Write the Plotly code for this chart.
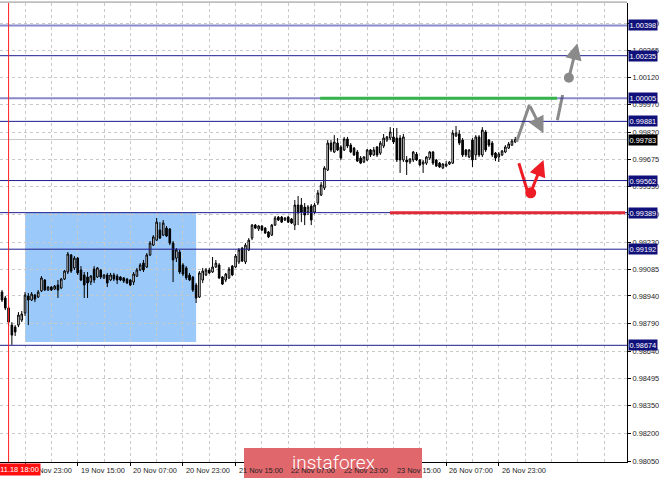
import plotly.graph_objects as go

# ---------------- data (H1 candles, bar index 0 = 16 Nov 16:00) ----------------
bar_idx = list(range(157))

open_ = [0.98961, 0.98929, 0.98875, 0.98783, 0.98772, 0.98783, 0.98810, 0.98848, 0.98940, 0.98918,
         0.98945, 0.98934, 0.98967, 0.99026, 0.98972, 0.98988, 0.98977, 0.98999, 0.98983, 0.99031,
         0.99069, 0.99161, 0.99091, 0.99144, 0.99080, 0.99053, 0.99042, 0.99015, 0.99085, 0.99042,
         0.99080, 0.99037, 0.99053, 0.99026, 0.99053, 0.99047, 0.99042, 0.99037, 0.99031, 0.99026,
         0.99015, 0.99047, 0.99080, 0.99117, 0.99096, 0.99161, 0.99214, 0.99241, 0.99295, 0.99268,
         0.99306, 0.99301, 0.99225, 0.99144, 0.99177, 0.99107, 0.99091, 0.99053, 0.99042, 0.98999,
         0.98934, 0.99026, 0.99053, 0.99080, 0.99069, 0.99096, 0.99107, 0.99042, 0.99026, 0.99037,
         0.99101, 0.99096, 0.99123, 0.99198, 0.99123, 0.99188, 0.99252, 0.99322, 0.99301, 0.99317,
         0.99306, 0.99285, 0.99268, 0.99322, 0.99365, 0.99365, 0.99349, 0.99365, 0.99355, 0.99322,
         0.99430, 0.99430, 0.99419, 0.99392, 0.99425, 0.99392, 0.99441, 0.99484, 0.99522, 0.99619,
         0.99764, 0.99716, 0.99764, 0.99743, 0.99727, 0.99786, 0.99753, 0.99737, 0.99716, 0.99683,
         0.99662, 0.99673, 0.99727, 0.99700, 0.99743, 0.99710, 0.99748, 0.99780, 0.99791, 0.99797,
         0.99791, 0.99791, 0.99673, 0.99673, 0.99662, 0.99673, 0.99705, 0.99673, 0.99651, 0.99656,
         0.99683, 0.99716, 0.99673, 0.99656, 0.99630, 0.99640, 0.99651, 0.99656, 0.99802, 0.99813,
         0.99780, 0.99727, 0.99689, 0.99780, 0.99700, 0.99797, 0.99700, 0.99824, 0.99780, 0.99764,
         0.99710, 0.99689, 0.99700, 0.99716, 0.99737, 0.99753, 0.99770]

high = [0.98972, 0.98940, 0.98886, 0.98799, 0.98783, 0.98853, 0.98859, 0.98961, 0.98956, 0.98961,
        0.98950, 0.98972, 0.99047, 0.99031, 0.98993, 0.98993, 0.98999, 0.99026, 0.99037, 0.99080,
        0.99177, 0.99166, 0.99155, 0.99150, 0.99101, 0.99069, 0.99069, 0.99053, 0.99101, 0.99096,
        0.99085, 0.99058, 0.99064, 0.99064, 0.99064, 0.99058, 0.99047, 0.99042, 0.99037, 0.99031,
        0.99069, 0.99091, 0.99117, 0.99134, 0.99171, 0.99236, 0.99268, 0.99360, 0.99338, 0.99349,
        0.99317, 0.99306, 0.99236, 0.99198, 0.99188, 0.99117, 0.99101, 0.99064, 0.99047, 0.99010,
        0.99074, 0.99091, 0.99091, 0.99091, 0.99150, 0.99134, 0.99117, 0.99047, 0.99064, 0.99096,
        0.99107, 0.99166, 0.99198, 0.99204, 0.99225, 0.99252, 0.99328, 0.99328, 0.99322, 0.99322,
        0.99311, 0.99290, 0.99328, 0.99371, 0.99371, 0.99371, 0.99365, 0.99371, 0.99360, 0.99457,
        0.99479, 0.99468, 0.99441, 0.99430, 0.99435, 0.99441, 0.99511, 0.99554, 0.99640, 0.99780,
        0.99780, 0.99807, 0.99791, 0.99753, 0.99797, 0.99797, 0.99764, 0.99743, 0.99727, 0.99694,
        0.99694, 0.99732, 0.99732, 0.99743, 0.99748, 0.99775, 0.99813, 0.99802, 0.99850, 0.99845,
        0.99845, 0.99807, 0.99813, 0.99694, 0.99683, 0.99721, 0.99716, 0.99678, 0.99673, 0.99694,
        0.99721, 0.99721, 0.99678, 0.99662, 0.99656, 0.99667, 0.99667, 0.99834, 0.99856, 0.99834,
        0.99791, 0.99732, 0.99732, 0.99791, 0.99807, 0.99807, 0.99850, 0.99834, 0.99786, 0.99775,
        0.99716, 0.99716, 0.99727, 0.99753, 0.99770, 0.99786, 0.99797]

low = [0.98907, 0.98864, 0.98778, 0.98676, 0.98724, 0.98772, 0.98799, 0.98832, 0.98783, 0.98913,
       0.98907, 0.98929, 0.98961, 0.98967, 0.98967, 0.98967, 0.98972, 0.98929, 0.98977, 0.99026,
       0.99058, 0.99064, 0.99080, 0.99053, 0.99020, 0.98929, 0.98929, 0.98999, 0.99010, 0.99037,
       0.99031, 0.99031, 0.98988, 0.99020, 0.99020, 0.99004, 0.99020, 0.99010, 0.99004, 0.98993,
       0.98999, 0.99042, 0.99074, 0.99069, 0.99091, 0.99155, 0.99209, 0.99236, 0.99247, 0.99263,
       0.99258, 0.99214, 0.99015, 0.99123, 0.99058, 0.99047, 0.99026, 0.99020, 0.98961, 0.98902,
       0.98929, 0.99010, 0.99047, 0.99058, 0.99064, 0.99091, 0.99031, 0.98999, 0.99015, 0.99031,
       0.99047, 0.99091, 0.99112, 0.99123, 0.99112, 0.99182, 0.99241, 0.99301, 0.99290, 0.99290,
       0.99274, 0.99252, 0.99263, 0.99317, 0.99344, 0.99333, 0.99344, 0.99333, 0.99328, 0.99295,
       0.99322, 0.99338, 0.99322, 0.99376, 0.99322, 0.99381, 0.99430, 0.99479, 0.99511, 0.99613,
       0.99716, 0.99710, 0.99721, 0.99673, 0.99721, 0.99737, 0.99710, 0.99694, 0.99662, 0.99651,
       0.99656, 0.99667, 0.99689, 0.99694, 0.99689, 0.99700, 0.99737, 0.99770, 0.99780, 0.99759,
       0.99662, 0.99603, 0.99662, 0.99592, 0.99651, 0.99662, 0.99667, 0.99640, 0.99603, 0.99646,
       0.99673, 0.99646, 0.99635, 0.99630, 0.99624, 0.99635, 0.99646, 0.99651, 0.99797, 0.99753,
       0.99689, 0.99689, 0.99683, 0.99635, 0.99673, 0.99689, 0.99689, 0.99716, 0.99743, 0.99689,
       0.99667, 0.99662, 0.99694, 0.99710, 0.99732, 0.99748, 0.99764]

close = [0.98918, 0.98875, 0.98799, 0.98729, 0.98746, 0.98837, 0.98843, 0.98945, 0.98918, 0.98950,
         0.98923, 0.98961, 0.99037, 0.98972, 0.98988, 0.98972, 0.98993, 0.98972, 0.99031, 0.99074,
         0.99166, 0.99074, 0.99144, 0.99064, 0.99026, 0.98999, 0.99010, 0.99047, 0.99026, 0.99091,
         0.99042, 0.99053, 0.99010, 0.99053, 0.99031, 0.99026, 0.99026, 0.99020, 0.99010, 0.98999,
         0.99058, 0.99080, 0.99107, 0.99080, 0.99161, 0.99225, 0.99258, 0.99338, 0.99252, 0.99333,
         0.99263, 0.99225, 0.99134, 0.99188, 0.99069, 0.99058, 0.99037, 0.99026, 0.98972, 0.98929,
         0.99064, 0.99074, 0.99080, 0.99064, 0.99096, 0.99117, 0.99037, 0.99004, 0.99058, 0.99085,
         0.99053, 0.99155, 0.99188, 0.99128, 0.99214, 0.99241, 0.99322, 0.99306, 0.99317, 0.99295,
         0.99279, 0.99258, 0.99322, 0.99360, 0.99349, 0.99338, 0.99360, 0.99338, 0.99333, 0.99430,
         0.99387, 0.99392, 0.99376, 0.99419, 0.99349, 0.99430, 0.99495, 0.99538, 0.99630, 0.99764,
         0.99727, 0.99770, 0.99727, 0.99683, 0.99786, 0.99748, 0.99716, 0.99700, 0.99667, 0.99656,
         0.99689, 0.99727, 0.99700, 0.99727, 0.99700, 0.99764, 0.99791, 0.99797, 0.99824, 0.99770,
         0.99673, 0.99673, 0.99797, 0.99662, 0.99678, 0.99716, 0.99673, 0.99646, 0.99662, 0.99689,
         0.99716, 0.99656, 0.99640, 0.99635, 0.99651, 0.99651, 0.99662, 0.99818, 0.99818, 0.99764,
         0.99700, 0.99700, 0.99727, 0.99673, 0.99797, 0.99700, 0.99834, 0.99727, 0.99753, 0.99700,
         0.99683, 0.99705, 0.99721, 0.99743, 0.99759, 0.99775, 0.99783]

# time-axis labels (bar index -> text)
label_idx = [7, 23, 39, 55, 71, 87, 103, 119, 135, 151]
label_text = ["16 Nov 23:00", "19 Nov 15:00", "20 Nov 07:00", "20 Nov 23:00", "21 Nov 15:00",
              "22 Nov 07:00", "22 Nov 23:00", "23 Nov 15:00", "26 Nov 07:00", "26 Nov 23:00"]

# price-axis ticks
price_ticks = [0.98050, 0.98200, 0.98350, 0.98495, 0.98640, 0.98790, 0.98940, 0.99085, 0.99230,
               0.99380, 0.99530, 0.99675, 0.99820, 0.99970, 1.00120, 1.00265, 1.00410]

# horizontal levels
levels = [1.00398, 1.00235, 1.00005, 0.99881, 0.99562, 0.99389, 0.99192, 0.98674]
level_soft = [True, False, True, False, False, False, False, False]
current_price = 0.99783

# marked vertical line / zone / target segments
vline_idx = 2
vline_text = "16.11.18 18:00"
zone_x = [7.0, 59.0]
zone_y = [0.98692, 0.99389]
green_seg_x = [96.7, 168.7]
green_seg_y = 1.00005
red_seg_x = [117.9, 189.4]
red_seg_y = 0.99389

# forecast sketch (bar index, price)
gray1_x = [156.4, 160.3, 164.6]
gray1_y = [0.99771, 0.99969, 0.99817]
gray2_x = [168.8, 170.4]
gray2_y = [0.99888, 1.00023]
gray_dot = (172.3, 1.00116)
gray_tip = (174.9, 1.00302)
red1_x = [157.1, 159.6]
red1_y = [0.99655, 0.99511]
red_dot = (160.7, 0.99496)
red_tip = (164.6, 0.99673)

# ---------------- figure ----------------
X_RANGE = [-0.61, 189.97]
Y_RANGE = [0.98045, 1.00519]
FONT = "Liberation Sans, Arial, sans-serif"
NAVY = "#1c1c8e"

fig = go.Figure()

fig.add_trace(go.Candlestick(
    x=bar_idx, open=open_, high=high, low=low, close=close,
    increasing=dict(line=dict(color="black", width=1), fillcolor="white"),
    decreasing=dict(line=dict(color="black", width=1), fillcolor="black"),
    whiskerwidth=0, showlegend=False, hoverinfo="skip"))

# forecast lines
fig.add_trace(go.Scatter(x=gray1_x[:2], y=gray1_y[:2], mode="lines",
                         line=dict(color="#8a8a8a", width=3), showlegend=False, hoverinfo="skip"))
fig.add_trace(go.Scatter(x=gray2_x, y=gray2_y, mode="lines",
                         line=dict(color="#8a8a8a", width=3), showlegend=False, hoverinfo="skip"))
fig.add_trace(go.Scatter(x=red1_x, y=red1_y, mode="lines",
                         line=dict(color="#ee1c25", width=3), showlegend=False, hoverinfo="skip"))
fig.add_trace(go.Scatter(x=[gray_dot[0]], y=[gray_dot[1]], mode="markers",
                         marker=dict(color="#8a8a8a", size=10), showlegend=False, hoverinfo="skip"))
fig.add_trace(go.Scatter(x=[red_dot[0]], y=[red_dot[1]], mode="markers",
                         marker=dict(color="#ee1c25", size=11), showlegend=False, hoverinfo="skip"))

shapes = []
shapes.append(dict(type="rect", xref="x", yref="y", x0=zone_x[0], x1=zone_x[1], y0=zone_y[0], y1=zone_y[1],
                   fillcolor="#9bc9f9", line=dict(width=0), layer="below"))
shapes.append(dict(type="line", xref="paper", yref="y", x0=0, x1=1, y0=current_price, y1=current_price,
                   line=dict(color="#c8c8c8", width=1), layer="below"))
for lv, soft in zip(levels, level_soft):
    shapes.append(dict(type="line", xref="paper", yref="y", x0=0, x1=1, y0=lv, y1=lv,
                       line=dict(color="rgba(40,40,160,0.55)" if soft else NAVY, width=2 if soft else 1)))
shapes.append(dict(type="line", xref="x", yref="y", x0=green_seg_x[0], x1=green_seg_x[1], y0=green_seg_y, y1=green_seg_y,
                   line=dict(color="#36b34a", width=3)))
shapes.append(dict(type="line", xref="x", yref="y", x0=red_seg_x[0], x1=red_seg_x[1], y0=red_seg_y, y1=red_seg_y,
                   line=dict(color="#e02a3a", width=3)))
shapes.append(dict(type="line", xref="x", yref="paper", x0=vline_idx, x1=vline_idx, y0=0, y1=1,
                   line=dict(color="#ff2020", width=1)))
shapes.append(dict(type="line", xref="paper", yref="paper", x0=0, x1=1, y0=1.002, y1=1.002,
                   line=dict(color="#8c8c8c", width=1)))
shapes.append(dict(type="rect", xref="paper", yref="paper", x0=244 / 627, x1=422 / 627, y0=-0.0349, y1=0.0305,
                   fillcolor="#e0676c", line=dict(width=0), layer="above"))

annotations = []
annotations.append(dict(x=gray1_x[2], y=gray1_y[2], ax=gray1_x[1], ay=gray1_y[1], xref="x", yref="y",
                        axref="x", ayref="y", showarrow=True, arrowhead=2, arrowsize=1.1, arrowwidth=3,
                        arrowcolor="#8a8a8a", text=""))
annotations.append(dict(x=gray_tip[0], y=gray_tip[1], ax=gray_dot[0], ay=gray_dot[1], xref="x", yref="y",
                        axref="x", ayref="y", showarrow=True, arrowhead=2, arrowsize=1.1, arrowwidth=3,
                        arrowcolor="#8a8a8a", text=""))
annotations.append(dict(x=red_tip[0], y=red_tip[1], ax=red_dot[0], ay=red_dot[1], xref="x", yref="y",
                        axref="x", ayref="y", showarrow=True, arrowhead=2, arrowsize=1.1, arrowwidth=3,
                        arrowcolor="#ee1c25", text=""))

for i, t in zip(label_idx, label_text):
    annotations.append(dict(x=i, y=0, xref="x", yref="paper", text=t, showarrow=False,
                            xanchor="left", yanchor="top", xshift=1, yshift=-2,
                            font=dict(family=FONT, size=7.4, color="#1e1e1e")))
annotations.append(dict(x=41 / 627, y=0, xref="paper", yref="paper", text=vline_text, showarrow=False,
                        xanchor="right", yanchor="top", yshift=-1, bgcolor="#ff1010", borderpad=1,
                        font=dict(family=FONT, size=7.4, color="white")))
for lv in levels:
    annotations.append(dict(x=1, y=lv, xref="paper", yref="y", text=f"{lv:.5f}", showarrow=False,
                            xanchor="left", yanchor="middle", xshift=1, bgcolor="#10107a", borderpad=0.5,
                            font=dict(family=FONT, size=7.4, color="white")))
annotations.append(dict(x=1, y=current_price, xref="paper", yref="y", text=f"{current_price:.5f}",
                        showarrow=False, xanchor="left", yanchor="middle", xshift=1, bgcolor="black",
                        borderpad=0.5, font=dict(family=FONT, size=7.4, color="white")))
annotations.append(dict(x=333 / 627, y=-0.002, xref="paper", yref="paper", text="instaforex", showarrow=False,
                        xanchor="center", yanchor="middle",
                        font=dict(family="Roboto, sans-serif", size=19, color="white", weight=300)))

fig.update_layout(
    width=665, height=480,
    margin=dict(l=0, r=38, t=3, b=18),
    paper_bgcolor="white", plot_bgcolor="white",
    showlegend=False,
    shapes=shapes, annotations=annotations,
    xaxis=dict(range=X_RANGE, rangeslider=dict(visible=False), showline=True, linecolor="black", linewidth=1,
               tickmode="array", tickvals=label_idx, showticklabels=False, ticks="outside", ticklen=3,
               tickcolor="black", showgrid=True, gridcolor="#c9c9c9", griddash="3px,3px", gridwidth=1,
               zeroline=False,
               minor=dict(tickmode="linear", tick0=7, dtick=8, showgrid=True, gridcolor="#c9c9c9",
                          griddash="3px,3px", ticks="")),
    yaxis=dict(range=Y_RANGE, side="right", showline=True, linecolor="black", linewidth=1,
               tickmode="array", tickvals=price_ticks, ticktext=[f"{v:.5f}" for v in price_ticks],
               ticks="outside", ticklen=3, tickcolor="black",
               tickfont=dict(family=FONT, size=7.4, color="#1e1e1e"),
               showgrid=True, gridcolor="#c9c9c9", griddash="3px,3px", zeroline=False),
)

fig.write_html("out.html", config={"displayModeBar": False},
               post_script="document.body.style.margin='0';document.body.style.overflow='hidden';")
